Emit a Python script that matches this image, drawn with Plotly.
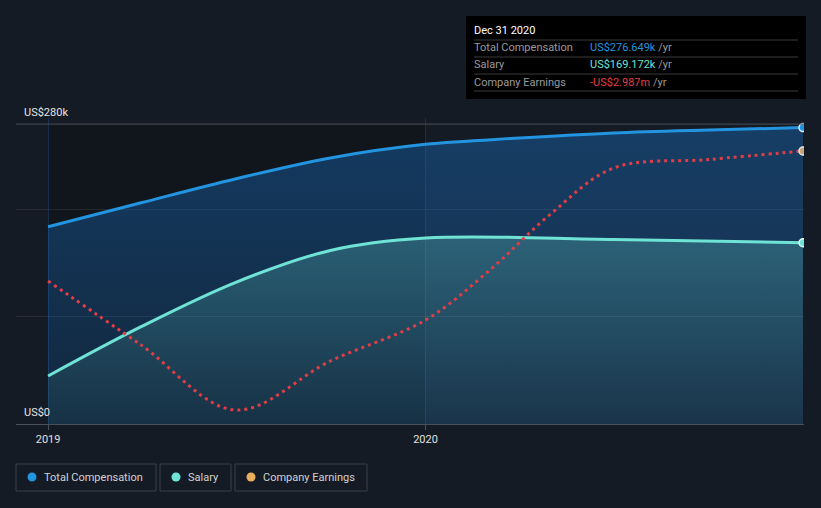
import plotly.graph_objects as go

# ---------------- data ----------------
comp_dates = ["2019-01-01", "2019-04-01", "2019-07-01", "2019-10-01", "2020-01-01",
              "2020-04-01", "2020-07-01", "2020-10-01", "2020-12-31"]
total_comp = [184100, 206500, 228700, 248300, 261000, 266900, 271600, 274400, 276649]

salary_dates = ["2019-01-01", "2019-04-01", "2019-07-01", "2019-10-01", "2020-01-01",
                "2020-07-01", "2020-12-31"]
salary = [44800, 90800, 132000, 162000, 173600, 172200, 169172]

earn_dates = ["2019-01-01", "2019-04-01", "2019-07-01", "2019-10-01", "2020-01-01",
              "2020-03-01", "2020-05-01", "2020-07-01", "2020-10-01", "2020-12-31"]
earnings_m = [-7.762, -10.112, -12.500, -10.700, -9.194, -7.431, -5.301, -3.611, -3.299, -2.987]

x_tick_vals = ["2019-01-01", "2020-01-01"]
x_tick_text = ["2019", "2020"]
y_label_vals = [0, 280000]
y_label_text = ["US$0", "US$280k"]
y_grid_vals = [0, 100000, 200000, 280000]

tooltip_title = "Dec 31 2020"
tooltip_rows = [
    ("Total Compensation", "US$276.649k", "#2394df"),
    ("Salary", "US$169.172k", "#6fe3d5"),
    ("Company Earnings", "-US$2.987m", "#e23d46"),
]
legend_items = [
    ("Total Compensation", "#2394df"),
    ("Salary", "#6fe3d5"),
    ("Company Earnings", "#e8ae5c"),
]

# ---------------- layout geometry ----------------
W, H = 821, 508
ML, MR, MT, MB = 16, 17, 118, 84
PW = W - ML - MR
PH = H - MT - MB


def px(x):
    return (x - ML) / PW


def py(y):
    return (H - MB - y) / PH


BG = "#151b24"
BLUE = "#2394df"
TEAL = "#6fe3d5"
RED = "#e23d46"

fig = go.Figure()

fig.add_trace(go.Scatter(
    x=comp_dates, y=total_comp, mode="lines",
    line=dict(color=BLUE, width=3, shape="spline", smoothing=1.0),
    fill="tozeroy",
    fillgradient=dict(type="vertical", start=0, stop=280000,
                      colorscale=[[0, "rgba(25,130,230,0.16)"], [1, "rgba(25,130,230,0.34)"]]),
    hoverinfo="skip", showlegend=False,
))
fig.add_trace(go.Scatter(
    x=salary_dates, y=salary, mode="lines",
    line=dict(color=TEAL, width=3, shape="spline", smoothing=1.0),
    fill="tozeroy",
    fillgradient=dict(type="vertical", start=0, stop=175000,
                      colorscale=[[0, "rgba(109,226,212,0.05)"], [1, "rgba(109,226,212,0.25)"]]),
    hoverinfo="skip", showlegend=False,
))
fig.add_trace(go.Scatter(
    x=earn_dates, y=earnings_m, mode="lines", yaxis="y2",
    line=dict(color=RED, width=3, dash="3px,4px", shape="spline", smoothing=1.0),
    hoverinfo="skip", showlegend=False,
))
# end markers
fig.add_trace(go.Scatter(
    x=[comp_dates[-1]], y=[total_comp[-1]], mode="markers",
    marker=dict(size=8, color=BLUE, line=dict(color="#d8ecff", width=1.5)),
    hoverinfo="skip", showlegend=False,
))
fig.add_trace(go.Scatter(
    x=[salary_dates[-1]], y=[salary[-1]], mode="markers",
    marker=dict(size=8, color=TEAL, line=dict(color="#d8fff8", width=1.5)),
    hoverinfo="skip", showlegend=False,
))
fig.add_trace(go.Scatter(
    x=[earn_dates[-1]], y=[earnings_m[-1]], mode="markers", yaxis="y2",
    marker=dict(size=8, color="#c9a577", line=dict(color="#e6e6e6", width=1.5)),
    hoverinfo="skip", showlegend=False,
))

shapes = []
# darker "past" band
shapes.append(dict(type="rect", xref="x", yref="paper", x0="2019-01-01", x1="2020-01-01",
                   y0=0, y1=py(124), fillcolor="rgba(0,0,0,0.18)", line=dict(width=0),
                   layer="below"))
# top gridline (280k) brighter
shapes.append(dict(type="line", xref="paper", yref="y", x0=0, x1=1, y0=280000, y1=280000,
                   line=dict(color="#40464f", width=1)))

# tooltip box
shapes.append(dict(type="rect", xref="paper", yref="paper", x0=px(466), x1=px(806),
                   y0=py(16), y1=py(99), fillcolor="#000000", line=dict(width=0)))
for ly in [40, 57, 74, 91]:
    shapes.append(dict(type="line", xref="paper", yref="paper", x0=px(474), x1=px(798),
                       y0=py(ly), y1=py(ly), line=dict(color="#3a3a3a", width=1)))

# legend boxes
legend_boxes = [(16, 156), (160, 231), (235, 367)]
legend_dots = [32, 176, 251]
legend_text_x = [44, 188, 263]
for (x0, x1), dx, (name, col) in zip(legend_boxes, legend_dots, legend_items):
    shapes.append(dict(type="rect", xref="paper", yref="paper", x0=px(x0), x1=px(x1),
                       y0=py(464), y1=py(491), line=dict(color="#3a414b", width=1),
                       fillcolor="rgba(0,0,0,0)"))
    shapes.append(dict(type="circle", xref="paper", yref="paper", x0=px(dx - 4.5), x1=px(dx + 4.5),
                       y0=py(477 - 4.5), y1=py(477 + 4.5), fillcolor=col, line=dict(width=0)))

annotations = []
for v, t in zip(y_label_vals, y_label_text):
    annotations.append(dict(xref="paper", yref="y", x=px(24), y=v, text=t, showarrow=False,
                            xanchor="left", yanchor="bottom", yshift=3, xshift=-2,
                            font=dict(size=11, color="#e4e4e4")))
annotations.append(dict(xref="paper", yref="paper", x=px(474), y=py(31), text=tooltip_title,
                        showarrow=False, xanchor="left", yanchor="middle", xshift=-2,
                        font=dict(size=11, color="#ffffff")))
for (lab, val, col), ry in zip(tooltip_rows, [48, 65, 82]):
    annotations.append(dict(xref="paper", yref="paper", x=px(474), y=py(ry), text=lab,
                            showarrow=False, xanchor="left", yanchor="middle", xshift=-2,
                            font=dict(size=11, color="#9b9b9b")))
    annotations.append(dict(xref="paper", yref="paper", x=px(590), y=py(ry),
                            text=f"<span style='color:{col}'>{val}</span> /yr",
                            showarrow=False, xanchor="left", yanchor="middle", xshift=-2,
                            font=dict(size=11, color="#9b9b9b")))
for (name, col), tx in zip(legend_items, legend_text_x):
    annotations.append(dict(xref="paper", yref="paper", x=px(tx), y=py(477), text=name,
                            showarrow=False, xanchor="left", yanchor="middle", xshift=-2,
                            font=dict(size=11, color="#d2d2d2")))

fig.update_layout(
    width=W, height=H,
    margin=dict(l=ML, r=MR, t=MT, b=MB, pad=0),
    paper_bgcolor=BG, plot_bgcolor=BG,
    font=dict(family="Roboto, 'Open Sans', sans-serif", size=11, color="#d2d2d2"),
    showlegend=False,
    hovermode=False,
    xaxis=dict(
        type="date", range=["2018-12-01", "2021-01-01"],
        tickvals=x_tick_vals, ticktext=x_tick_text,
        showgrid=True, gridcolor="rgba(35,90,160,0.35)", gridwidth=1,
        showline=True, linecolor="#4a5059", linewidth=1,
        ticks="outside", ticklen=5, tickcolor="#4a5059",
        tickfont=dict(size=11, color="#e0e0e0"),
        zeroline=False, fixedrange=True,
    ),
    yaxis=dict(
        range=[0, 280000 * PH / 300],
        tickvals=y_grid_vals, showticklabels=False,
        showgrid=True, gridcolor="rgba(255,255,255,0.08)", gridwidth=1,
        zeroline=False, showline=False, fixedrange=True,
    ),
    yaxis2=dict(
        overlaying="y", range=[-13.014, -13.014 + 0.03673 * PH],
        visible=False, showgrid=False, zeroline=False, fixedrange=True,
    ),
    shapes=shapes,
    annotations=annotations,
)

fig.write_html("out.html", config={"displayModeBar": False})
